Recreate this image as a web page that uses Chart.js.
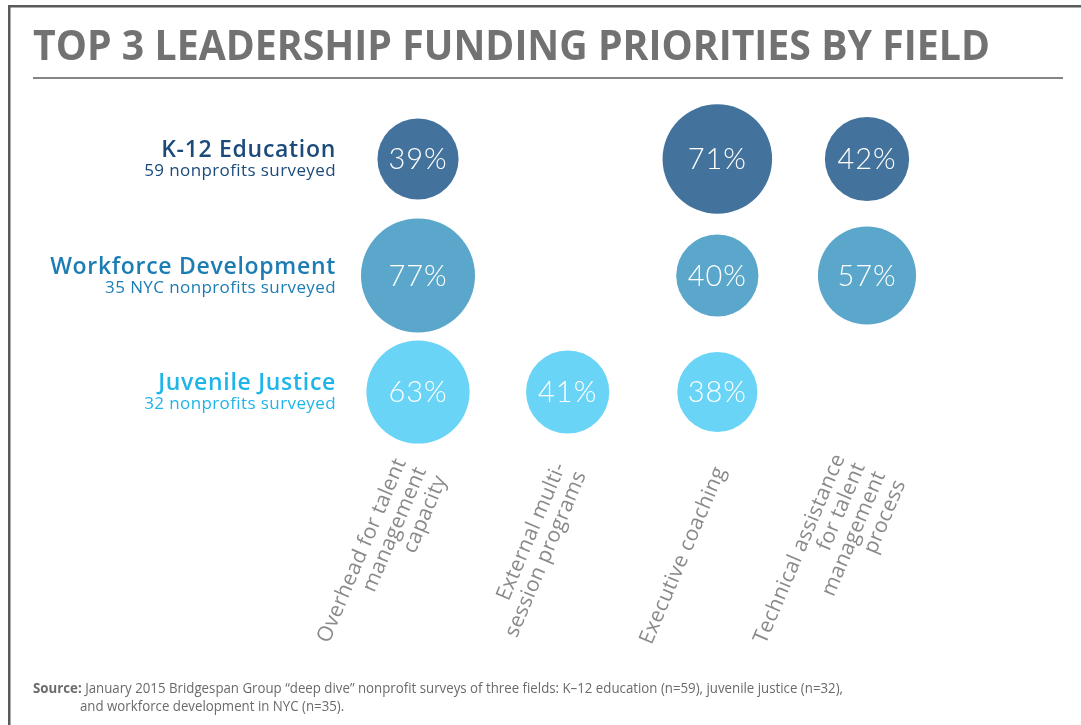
<!DOCTYPE html>
<html>
<head>
<meta charset="utf-8">
<script src="https://cdn.jsdelivr.net/npm/chart.js@4.4.1/dist/chart.umd.min.js"></script>
<style>
  html, body { margin: 0; padding: 0; background: #fff; overflow: hidden; }
  #wrap { position: relative; width: 1081px; height: 725px; }
</style>
</head>
<body>
<div id="wrap"><canvas id="bubbleChart" width="1081" height="725"></canvas></div>
<script>
const priorities = [
  ["Overhead for talent", "management", "capacity"],
  ["External multi-", "session programs"],
  ["Executive coaching"],
  ["Technical assistance", "for talent", "management", "process"]
];
const fields = ["K-12 Education", "Workforce Development", "Juvenile Justice"];
const surveyed = ["59 nonprofits surveyed", "35 NYC nonprofits surveyed", "32 nonprofits surveyed"];

const k12Values = [39, null, 71, 42];
const workforceValues = [77, null, 40, 57];
const juvenileValues = [63, 41, 38, null];

const bubbleColors = ["#43739c", "#5ba6cb", "#6ad4f7"];
const labelColors = ["#1b4a7b", "#1b7db4", "#1db5ea"];

// bubble area grows with the percentage
function toPoints(values, row) {
  const pts = [];
  values.forEach((v, i) => {
    if (v !== null) pts.push({ x: i, y: row, r: 6.5 * Math.sqrt(v), v: v });
  });
  return pts;
}

function fitText(ctx, text, x, y, width) {
  const w = ctx.measureText(text).width;
  ctx.save();
  ctx.translate(x, y);
  ctx.scale(width / w, 1);
  ctx.fillText(text, 0, 0);
  ctx.restore();
}

const decorPlugin = {
  id: 'decor',
  beforeDraw: (chart) => {
    const { ctx } = chart;
    ctx.save();
    // frame
    ctx.fillStyle = '#5a5a5a';
    ctx.fillRect(8, 5, 1081 - 8, 2.5);
    ctx.fillRect(8, 5, 2.5, 725);
    // title
    ctx.fillStyle = '#727272';
    ctx.font = 'bold 41px "Open Sans"';
    ctx.textBaseline = 'alphabetic';
    ctx.textAlign = 'left';
    fitText(ctx, "TOP 3 LEADERSHIP FUNDING PRIORITIES BY FIELD", 33, 60, 957);
    ctx.fillStyle = '#858585';
    ctx.fillRect(33, 77, 1063 - 33, 2);
    // source
    ctx.fillStyle = '#6a6a6a';
    ctx.font = 'bold 14px "Open Sans"';
    const lead = "Source: ";
    const w1 = ctx.measureText(lead).width;
    ctx.font = '14px "Open Sans"';
    const rest = "January 2015 Bridgespan Group \u201cdeep dive\u201d nonprofit surveys of three fields: K\u201312 education (n=59), juvenile justice (n=32),";
    const w2 = ctx.measureText(rest).width;
    const s = 810 / (w1 + w2);
    ctx.save();
    ctx.translate(33, 693);
    ctx.scale(s, 1);
    ctx.font = 'bold 14px "Open Sans"';
    ctx.fillText(lead, 0, 0);
    ctx.font = '14px "Open Sans"';
    ctx.fillText(rest, w1, 0);
    ctx.restore();
    ctx.save();
    ctx.translate(80, 711);
    ctx.scale(s, 1);
    ctx.fillText("and workforce development in NYC (n=35).", 0, 0);
    ctx.restore();
    ctx.restore();
  },
  afterDatasetsDraw: (chart) => {
    const { ctx, scales: { x, y } } = chart;
    ctx.save();
    // percentages inside bubbles
    ctx.fillStyle = '#ffffff';
    ctx.font = '300 29px Lato';
    ctx.letterSpacing = '1px';
    ctx.textAlign = 'center';
    ctx.textBaseline = 'middle';
    chart.data.datasets.forEach((ds, di) => {
      chart.getDatasetMeta(di).data.forEach((el, i) => {
        ctx.fillText(ds.data[i].v + '%', el.x, el.y + 1);
      });
    });
    // field labels
    ctx.textAlign = 'right';
    ctx.textBaseline = 'alphabetic';
    fields.forEach((f, i) => {
      const py = y.getPixelForValue(i);
      ctx.fillStyle = labelColors[i];
      ctx.font = '600 23px "Open Sans"';
      ctx.letterSpacing = '0.7px';
      ctx.fillText(f, 336, py - 2);
      ctx.font = '17px "Open Sans"';
      ctx.letterSpacing = '0.4px';
      ctx.fillText(surveyed[i], 336, py + 17);
    });
    // rotated priority labels
    ctx.fillStyle = '#8a8a8a';
    ctx.font = '21px "Open Sans"';
    ctx.letterSpacing = '0.3px';
    ctx.textBaseline = 'middle';
    const lh = 22;
    priorities.forEach((lines, i) => {
      const px = x.getPixelForValue(i);
      ctx.save();
      ctx.translate(px + 3, 468);
      ctx.rotate(-67 * Math.PI / 180);
      lines.forEach((line, k) => {
        ctx.fillText(line, 0, (k - (lines.length - 1) / 2) * lh);
      });
      ctx.restore();
    });
    ctx.restore();
  }
};

new Chart(document.getElementById('bubbleChart').getContext('2d'), {
  type: 'bubble',
  data: {
    datasets: [
      { label: fields[0], data: toPoints(k12Values, 0), backgroundColor: bubbleColors[0] },
      { label: fields[1], data: toPoints(workforceValues, 1), backgroundColor: bubbleColors[1] },
      { label: fields[2], data: toPoints(juvenileValues, 2), backgroundColor: bubbleColors[2] }
    ]
  },
  options: {
    responsive: false,
    animation: false,
    devicePixelRatio: 1,
    layout: { padding: { left: 418, right: 214, top: 159, bottom: 333 } },
    elements: { point: { borderWidth: 0, hoverBorderWidth: 0 } },
    datasets: { bubble: { clip: false } },
    scales: {
      x: { type: 'linear', min: 0, max: 3, display: false },
      y: { type: 'linear', min: 0, max: 2, reverse: true, display: false }
    },
    plugins: {
      legend: { display: false },
      tooltip: { enabled: false }
    }
  },
  plugins: [decorPlugin]
});
</script>
</body>
</html>
